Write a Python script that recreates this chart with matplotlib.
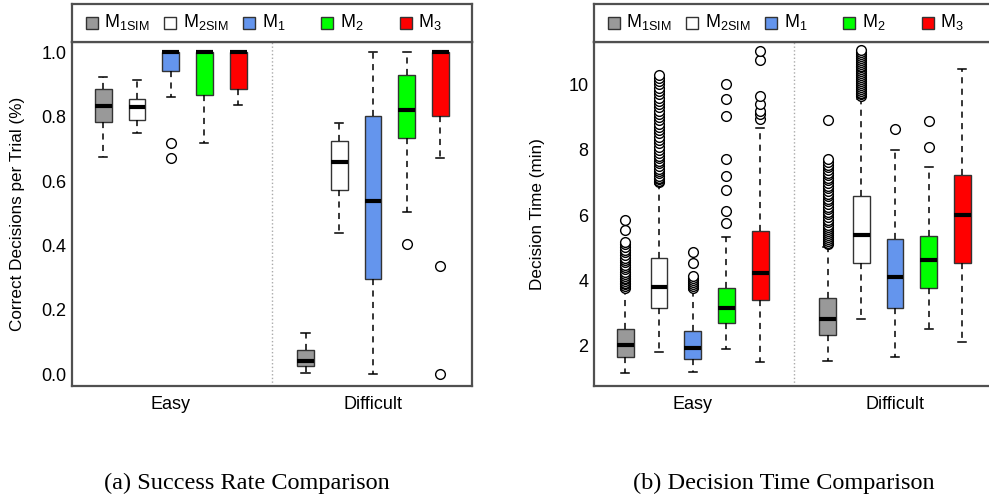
import matplotlib
matplotlib.use("Agg")
import matplotlib.pyplot as plt
from matplotlib.patches import Rectangle

plt.rcParams['font.family'] = ['Liberation Sans', 'DejaVu Sans']
plt.rcParams['mathtext.fontset'] = 'custom'
plt.rcParams['mathtext.rm'] = 'Liberation Sans'

models = [r'M$_\mathrm{1SIM}$', r'M$_\mathrm{2SIM}$', r'M$_\mathrm{1}$', r'M$_\mathrm{2}$', r'M$_\mathrm{3}$']
colors = ['#999999', '#ffffff', '#6495ed', '#00ff00', '#ff0000']
groups = ['Easy', 'Difficult']

# (a) success rate: order M1SIM, M2SIM, M1, M2, M3 for Easy then Difficult
sr_q1 = [0.783, 0.790, 0.941, 0.868, 0.885, 0.027, 0.571, 0.295, 0.735, 0.802]
sr_med = [0.833, 0.829, 1.0, 1.0, 1.0, 0.043, 0.658, 0.538, 0.821, 1.0]
sr_q3 = [0.886, 0.856, 1.0, 1.0, 1.0, 0.0755, 0.724, 0.803, 0.930, 1.0]
sr_lo = [0.674, 0.748, 0.860, 0.717, 0.836, 0.003, 0.440, 0.0, 0.504, 0.671]
sr_hi = [0.924, 0.914, 1.0, 1.0, 1.0, 0.129, 0.779, 1.0, 1.0, 1.0]
sr_out = [[], [], [0.717, 0.671], [], [],
          [], [], [], [0.404], [0.337, 0.0]]

# (b) decision time in minutes
dt_q1 = [1.66, 3.16, 1.58, 2.69, 3.40, 2.32, 4.52, 3.14, 3.76, 4.52]
dt_med = [2.01, 3.81, 1.93, 3.14, 4.23, 2.83, 5.39, 4.09, 4.62, 6.01]
dt_q3 = [2.52, 4.68, 2.45, 3.76, 5.52, 3.47, 6.58, 5.27, 5.36, 7.23]
dt_lo = [1.17, 1.82, 1.20, 1.89, 1.51, 1.53, 2.83, 1.66, 2.52, 2.12]
dt_hi = [3.72, 6.95, 3.70, 5.32, 8.68, 5.03, 9.57, 7.99, 7.48, 10.46]
dt_out = [
    [3.78, 3.83, 3.88, 3.93, 3.98, 4.03, 4.08, 4.14, 4.2, 4.27, 4.34, 4.41, 4.48,
     4.55, 4.62, 4.7, 4.78, 4.86, 4.94, 5.02, 5.1, 5.18, 5.54, 5.84],
    [7.0, 7.05, 7.1, 7.15, 7.2, 7.28, 7.35, 7.42, 7.5, 7.58, 7.66, 7.74, 7.82,
     7.9, 8.0, 8.1, 8.2, 8.3, 8.4, 8.5, 8.6, 8.7, 8.8, 8.9, 9.0, 9.1, 9.2, 9.3,
     9.4, 9.5, 9.6, 9.7, 9.8, 9.9, 10.0, 10.1, 10.2, 10.3],
    [3.76, 3.82, 3.88, 3.94, 4.0, 4.06, 4.12, 4.52, 4.87],
    [5.77, 6.13, 6.77, 7.19, 7.71, 9.03, 9.57, 10.0],
    [8.94, 9.09, 9.18, 9.40, 9.65, 10.75, 11.02],
    [5.1, 5.16, 5.22, 5.28, 5.34, 5.4, 5.46, 5.52, 5.58, 5.64, 5.7, 5.78, 5.86,
     5.94, 6.02, 6.1, 6.18, 6.26, 6.34, 6.42, 6.5, 6.58, 6.66, 6.74, 6.82, 6.9,
     6.98, 7.06, 7.14, 7.22, 7.3, 7.38, 7.46, 7.54, 7.62, 7.72, 8.91],
    [9.65, 9.7, 9.75, 9.8, 9.86, 9.92, 9.98, 10.04, 10.1, 10.16, 10.22, 10.28,
     10.34, 10.4, 10.46, 10.52, 10.58, 10.64, 10.7, 10.76, 10.82, 10.88, 10.94,
     11.0, 11.06],
    [8.63],
    [8.09, 8.89],
    [],
]

positions = [1, 2, 3, 4, 5, 7, 8, 9, 10, 11]
spine_col = '#505050'


def draw_panel(ax, lax, q1, med, q3, lo, hi, out, ylim, yticks, ylabel, label_x):
    stats = []
    for i in range(len(q1)):
        stats.append(dict(q1=q1[i], med=med[i], q3=q3[i], whislo=lo[i],
                          whishi=hi[i], fliers=out[i]))
    bp = ax.bxp(stats, positions=positions, widths=0.5, patch_artist=True,
                showcaps=True,
                boxprops=dict(edgecolor='#333333', linewidth=1.0),
                medianprops=dict(color='black', linewidth=3, solid_capstyle='butt'),
                whiskerprops=dict(color='black', linewidth=1.1, linestyle=(0, (4, 3.5))),
                capprops=dict(color='black', linewidth=1.1),
                flierprops=dict(marker='o', markerfacecolor='white',
                                markeredgecolor='black', markersize=7,
                                markeredgewidth=1.0))
    for j, box in enumerate(bp['boxes']):
        box.set_facecolor(colors[j % 5])
    for cap in bp['caps']:
        x0, x1 = cap.get_xdata()
        c = (x0 + x1) / 2
        cap.set_xdata([c - 0.12, c + 0.12])
    ax.axvline(6, color='#aaaaaa', linestyle=':', linewidth=1.0, zorder=0)
    ax.set_xlim(0.07, 11.94)
    ax.set_ylim(*ylim)
    ax.set_yticks(yticks)
    ax.set_yticklabels([('%.1f' % v) if isinstance(v, float) else str(v) for v in yticks])
    ax.set_xticks([3, 9])
    ax.set_xticklabels(groups)
    ax.tick_params(axis='both', length=0, labelsize=13, colors='black')
    ax.tick_params(axis='y', pad=4)
    ax.tick_params(axis='x', pad=7)
    ax.set_ylabel(ylabel, fontsize=12.3)
    ax.yaxis.set_label_coords(label_x, 0.5)
    for s in ax.spines.values():
        s.set_color(spine_col)
        s.set_linewidth(1.6)

    # legend strip
    lax.set_xlim(0, 400)
    lax.set_ylim(0, 38)
    lax.set_xticks([])
    lax.set_yticks([])
    for s in lax.spines.values():
        s.set_color(spine_col)
        s.set_linewidth(1.6)
    step = 78.5
    for k in range(5):
        cx = 19.5 + k * step
        lax.add_patch(Rectangle((cx - 6, 19 - 6), 12, 12, facecolor=colors[k],
                                edgecolor='#333333', linewidth=1.0))
        lax.text(cx + 13, 19.5, models[k], fontsize=13, va='center', ha='left')


fig = plt.figure(figsize=(9.89, 5.0), dpi=100)
ax1 = fig.add_axes([72 / 989, 0.228, 400 / 989, 0.688])
lax1 = fig.add_axes([72 / 989, 0.916, 400 / 989, 0.076])
ax2 = fig.add_axes([594 / 989, 0.228, 400 / 989, 0.688])
lax2 = fig.add_axes([594 / 989, 0.916, 400 / 989, 0.076])

draw_panel(ax1, lax1, sr_q1, sr_med, sr_q3, sr_lo, sr_hi, sr_out,
           (-0.036, 1.032), [0.0, 0.2, 0.4, 0.6, 0.8, 1.0],
           'Correct Decisions per Trial (%)', -0.117)
draw_panel(ax2, lax2, dt_q1, dt_med, dt_q3, dt_lo, dt_hi, dt_out,
           (0.767, 11.30), [2, 4, 6, 8, 10], 'Decision Time (min)', -0.122)

fig.text(247 / 989, 0.034, '(a) Success Rate Comparison', ha='center', va='center',
         fontsize=17.5, family=['Liberation Serif', 'DejaVu Serif'])
fig.text(784 / 989, 0.034, '(b) Decision Time Comparison', ha='center', va='center',
         fontsize=17.5, family=['Liberation Serif', 'DejaVu Serif'])

fig.savefig('out.png', dpi=100)
